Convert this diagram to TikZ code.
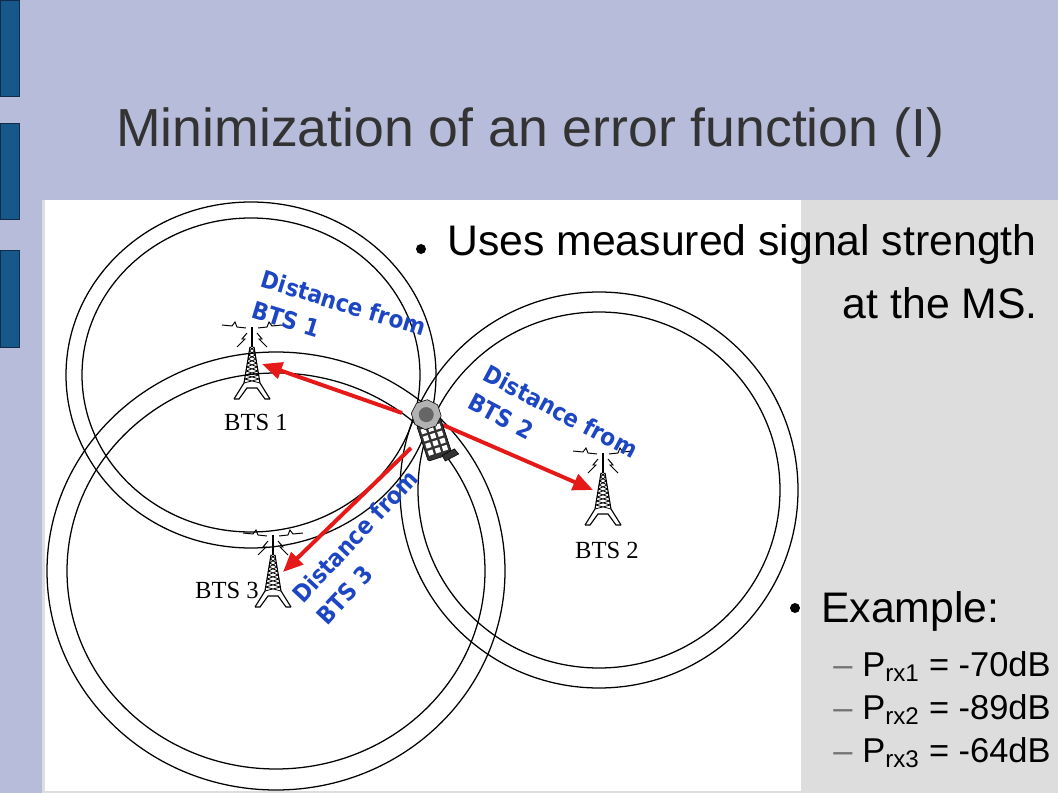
\documentclass[tikz,border=0pt]{standalone}
\usepackage{fontspec}
\setmainfont{Liberation Sans}
\newfontfamily\distfont[FakeStretch=0.9]{DejaVu Sans}
\newfontfamily\btsfont{Liberation Serif}
\usepackage{tikz}
\usetikzlibrary{arrows.meta}

\definecolor{slidelilac}{RGB}{183,188,218}
\definecolor{panelgrey}{RGB}{221,221,221}
\definecolor{barblue}{RGB}{22,88,138}
\definecolor{bardark}{RGB}{16,44,72}
\definecolor{titlegrey}{RGB}{51,51,51}
\definecolor{distblue}{RGB}{28,70,195}
\definecolor{arrowred}{RGB}{230,25,25}

\begin{document}
\begin{tikzpicture}[x=0.025cm, y=-0.025cm,
    ring/.style={line width=0.9pt},
    rxarrow/.style={draw=arrowred, line width=2.8pt, -{Triangle[length=0.5cm,width=0.42cm]}},
    distlabel/.style={font=\distfont\bfseries\fontsize{17}{23}\selectfont, text=distblue,
      align=left, anchor=north west, inner sep=0pt},
    btslabel/.style={font=\btsfont\fontsize{17.5}{21}\selectfont, inner sep=0pt},
    bodytext/.style={font=\fontsize{30.4}{36}\selectfont, inner sep=0pt},
    subtext/.style={font=\fontsize{24.5}{29}\selectfont, anchor=base west, inner sep=0pt},
    tower/.pic={
      \draw[line width=0.7pt] (-30,-2) -- (-20,-1) -- (-17,-5) -- (-15,0) -- (-6,1);
      \draw[line width=0.7pt] (30,-2) -- (20,-1) -- (17,-5) -- (15,0) -- (6,1);
      \draw[line width=0.7pt] (-5,6) -- (-10,12) -- (-7,12) -- (-15,20);
      \draw[line width=0.7pt] (5,6) -- (10,12) -- (7,12) -- (15,20);
      %
      \draw[line width=1pt] (0,0) -- (0,20);
      \draw[line width=0.8pt] (-2,20) -- (-8,56) -- (-18,72) (2,20) -- (8,56) -- (18,72);
      \draw[line width=0.8pt] (-18,72) -- (-13,72) -- (-5,61) -- (5,61) -- (13,72) -- (18,72);
      \foreach \ya [evaluate=\ya as \wa using 2+(\ya-20)/6,
                    evaluate=\ya as \wb using 2+(\ya-16)/6] in {20,24,...,52}
        \draw[line width=0.55pt] (-\wa,\ya) -- (\wb,\ya+4) (\wa,\ya) -- (-\wb,\ya+4);
      \coordinate (-east) at (10,37);
      \coordinate (-west) at (-10,37);
    }]
        \useasboundingbox (0,0) rectangle (1058,793);
        %
        \fill [slidelilac] (0,0) rectangle (1058,793);
        \fill [panelgrey] (42,200) rectangle (1058,793);
        \fill [white] (45,200) rectangle (801,791);
        %
        \draw [fill=barblue, draw=bardark] (0,0) rectangle (19,96);
        \draw [fill=barblue, draw=bardark] (0,123) rectangle (19,219);
        \draw [fill=barblue, draw=bardark] (0,250) rectangle (19,347);
        %
        \node [font=\fontsize{38.1}{46}\selectfont, text=titlegrey, anchor=base west, inner sep=0pt]
          (title) at (116,147) {Minimization of an error function (I)};
        %
        \draw [ring] (251,375) ellipse [x radius=185, y radius=173];
        \draw [ring] (251,375) ellipse [x radius=169, y radius=157];
        \draw [ring] (599,490) ellipse [x radius=199, y radius=198];
        \draw [ring] (599,490) ellipse [x radius=181, y radius=178];
        \draw [ring] (276,571) ellipse [x radius=229, y radius=219];
        \draw [ring] (276,571) ellipse [x radius=209, y radius=198];
        %
        \pic (bts1) at (252,327) {tower};
        \pic (bts2) at (603,453) {tower};
        \pic (bts3) at (273,535) {tower};
        \node [btslabel, anchor=base] (name1) at (256,430) {BTS 1};
        \node [btslabel, anchor=base] (name2) at (607,558) {BTS 2};
        \node [btslabel, anchor=base east] (name3) at (259,598) {BTS 3};
        %
        \node [distlabel, rotate=-17] (dist1) at (265,269) {Distance from\\BTS 1};
        \node [distlabel, rotate=-28] (dist2) at (490,363) {Distance from\\BTS 2};
        \node [distlabel, rotate=47] (dist3) at (290,592) {Distance from\\BTS 3};
        %
        \coordinate (msw) at (402,413);
        \coordinate (mse) at (443,425);
        \coordinate (mssw) at (411,448);
        \draw [rxarrow] (msw) -- (bts1-east);
        \draw [rxarrow] (mse) -- (bts2-west);
        \draw [rxarrow] (mssw) -- (bts3-east);
        %
        \begin{scope}[shift={(427,417)}, rotate=18, scale=1.25]
          \draw [fill=black!80, rounded corners=1pt] (-10,4) rectangle (10,34);
          \foreach \i in {-1,0,1}
            \foreach \j in {0,...,3}
              \fill [white] (\i*6-2,8+\j*6) rectangle (\i*6+2,12+\j*6);
          \draw [fill=black!80] (2,33) -- (13,31) -- (15,36) -- (3,38) -- cycle;
          \draw [fill=gray!60] (0,-2) +(22.5:12) -- +(67.5:12) -- +(112.5:12) -- +(157.5:12)
            -- +(202.5:12) -- +(247.5:12) -- +(292.5:12) -- +(337.5:12) -- cycle;
          \fill [black!60] (0,-2) circle (6);
        \end{scope}
        %
        \fill (421,249) circle (5);
        \node [bodytext, anchor=base west] (uses) at (447,256) {Uses measured signal strength};
        \node [bodytext, anchor=base east] (atms) at (1038,319) {at the MS.};
        \fill (795,608) circle (5);
        \node [bodytext, anchor=base west] (example) at (821,622) {Example:};
        \node [subtext, text=black!55] (dash1) at (833,676) {--};
        \node [subtext] (prx1) at (862,676) {P\textsubscript{rx1} = -70dB};
        \node [subtext, text=black!55] (dash2) at (833,719) {--};
        \node [subtext] (prx2) at (862,719) {P\textsubscript{rx2} = -89dB};
        \node [subtext, text=black!55] (dash3) at (833,762) {--};
        \node [subtext] (prx3) at (862,762) {P\textsubscript{rx3} = -64dB};
      \end{tikzpicture}
\end{document}
